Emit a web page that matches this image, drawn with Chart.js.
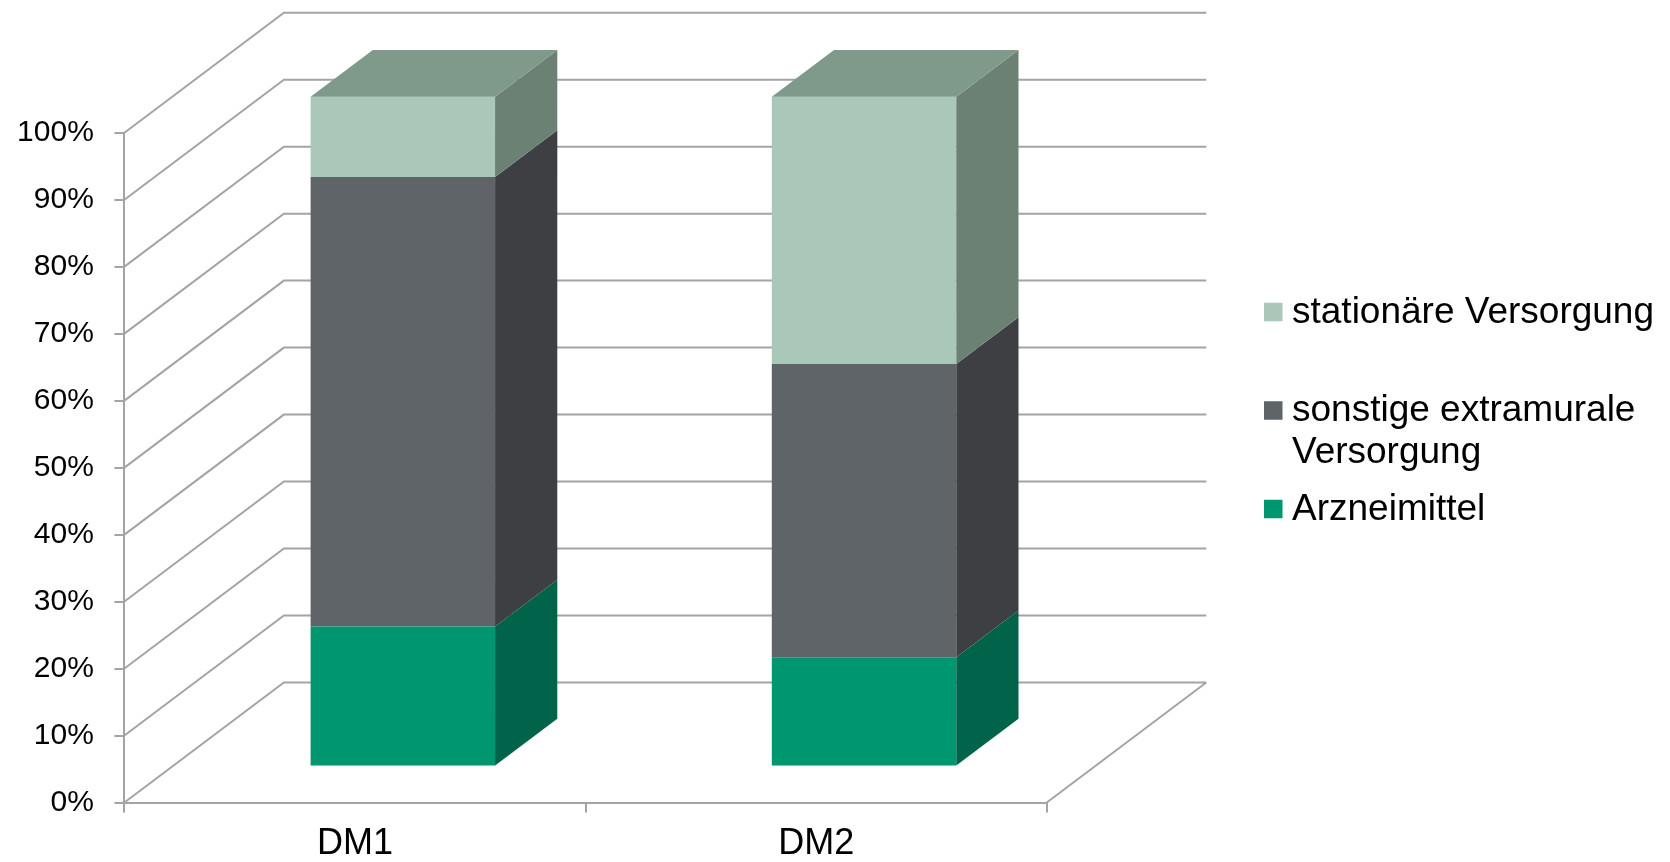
<!DOCTYPE html>
<html lang="de">
<head>
    <meta charset="UTF-8">
    <title>Kostenanteile DM1 / DM2</title>
    <script src="https://cdn.jsdelivr.net/npm/chart.js"></script>
    <style>
        body {
            margin: 0;
            background-color: white;
        }
        .chart-container {
            width: 1670px;
            height: 862px;
            position: relative;
        }
    </style>
</head>
<body>
    <div class="chart-container">
        <canvas id="barChart"></canvas>
    </div>

    <script>
        // Werte in Prozent
        const categories = ['DM1', 'DM2'];
        const arzneimittel = [20.9, 16.3];
        const sonstigeExtramural = [67.1, 43.8];
        const stationaer = [12.0, 39.9];
        const seriesLabels = ['Arzneimittel', 'sonstige extramurale Versorgung', 'stationäre Versorgung'];

        const FONT = "'Liberation Sans', Arial, sans-serif";
        const GRID_COLOR = '#a4a4a4';

        // 3D-Tiefe der Rückwand und Lage der Säulen darin
        const DEPTH_X = 159.5;
        const DEPTH_Y = -120;
        const BAR_FRONT = 0.3;
        const BAR_DEPTH = 0.39;

        const box3d = {
            id: 'box3d',
            beforeDatasetsDraw(chart) {
                const ctx = chart.ctx;
                const a = chart.chartArea;
                const y = chart.scales.y;
                ctx.save();
                ctx.strokeStyle = GRID_COLOR;
                ctx.lineWidth = 2;
                ctx.beginPath();
                y.ticks.forEach(t => {
                    const py = y.getPixelForValue(t.value);
                    ctx.moveTo(a.left, py);
                    ctx.lineTo(a.left + DEPTH_X, py + DEPTH_Y);
                    ctx.lineTo(a.right + DEPTH_X, py + DEPTH_Y);
                });
                ctx.moveTo(a.right, a.bottom);
                ctx.lineTo(a.right + DEPTH_X, a.bottom + DEPTH_Y);
                ctx.stroke();
                ctx.restore();

                // Säulen in die Mitte der Tiefe schieben
                ctx.save();
                ctx.translate(DEPTH_X * BAR_FRONT, DEPTH_Y * BAR_FRONT);
            },
            afterDatasetsDraw(chart) {
                const ctx = chart.ctx;
                const dx = DEPTH_X * BAR_DEPTH;
                const dy = DEPTH_Y * BAR_DEPTH;
                const last = chart.data.datasets.length - 1;
                chart.data.datasets.forEach((ds, i) => {
                    chart.getDatasetMeta(i).data.forEach(bar => {
                        const p = bar.getProps(['x', 'y', 'base', 'width'], true);
                        const l = p.x - p.width / 2;
                        const r = p.x + p.width / 2;
                        ctx.fillStyle = ds.sideColor;
                        ctx.beginPath();
                        ctx.moveTo(r, p.y);
                        ctx.lineTo(r + dx, p.y + dy);
                        ctx.lineTo(r + dx, p.base + dy);
                        ctx.lineTo(r, p.base);
                        ctx.closePath();
                        ctx.fill();
                        if (i === last) {
                            ctx.fillStyle = ds.topColor;
                            ctx.beginPath();
                            ctx.moveTo(l, p.y);
                            ctx.lineTo(l + dx, p.y + dy);
                            ctx.lineTo(r + dx, p.y + dy);
                            ctx.lineTo(r, p.y);
                            ctx.closePath();
                            ctx.fill();
                        }
                    });
                });
                ctx.restore();
            },
            afterDraw(chart) {
                // Legende rechts, umgekehrte Reihenfolge
                const ctx = chart.ctx;
                const boxX = 1264, boxSize = 18.5, textX = 1292;
                const maxW = chart.width - textX - 4;
                let cy = 312;
                ctx.save();
                ctx.font = '37px ' + FONT;
                ctx.textBaseline = 'alphabetic';
                ctx.textAlign = 'left';
                for (let i = chart.data.datasets.length - 1; i >= 0; i--) {
                    const ds = chart.data.datasets[i];
                    ctx.fillStyle = ds.backgroundColor;
                    ctx.fillRect(boxX, cy - boxSize / 2, boxSize, boxSize);
                    // Zeilen umbrechen
                    const lines = [];
                    let cur = '';
                    ds.label.split(' ').forEach(w => {
                        const test = cur ? cur + ' ' + w : w;
                        if (cur && ctx.measureText(test).width > maxW) {
                            lines.push(cur);
                            cur = w;
                        } else {
                            cur = test;
                        }
                    });
                    lines.push(cur);
                    ctx.fillStyle = '#000';
                    lines.forEach((ln, k) => ctx.fillText(ln, textX, cy + 10.7 + k * 41.7));
                    cy += 98.5;
                }
                ctx.restore();
            }
        };

        new Chart(document.getElementById('barChart'), {
            type: 'bar',
            data: {
                labels: categories,
                datasets: [
                    { label: seriesLabels[0], data: arzneimittel, backgroundColor: '#009670', sideColor: '#00634a', topColor: '#00634a' },
                    { label: seriesLabels[1], data: sonstigeExtramural, backgroundColor: '#5f6468', sideColor: '#3d3f42', topColor: '#3d3f42' },
                    { label: seriesLabels[2], data: stationaer, backgroundColor: '#a9c8b9', sideColor: '#6a8174', topColor: '#7f998a' }
                ].map(d => Object.assign(d, { categoryPercentage: 1, barPercentage: 0.4, borderWidth: 0, clip: false }))
            },
            options: {
                responsive: true,
                maintainAspectRatio: false,
                animation: false,
                layout: {
                    padding: { left: 0, top: 132.7, right: 623.2, bottom: 0 }
                },
                scales: {
                    x: {
                        stacked: true,
                        grid: { drawOnChartArea: false, drawTicks: true, tickLength: 10, color: GRID_COLOR, lineWidth: 2 },
                        border: { display: true, color: GRID_COLOR, width: 2 },
                        ticks: { color: '#000', padding: 10, font: { family: FONT, size: 36 } },
                        afterFit: s => { s.height = 59.5; }
                    },
                    y: {
                        stacked: true,
                        min: 0,
                        max: 100,
                        grid: { drawOnChartArea: false, drawTicks: true, tickLength: 10, color: GRID_COLOR, lineWidth: 2 },
                        border: { display: true, color: GRID_COLOR, width: 2 },
                        ticks: {
                            stepSize: 10,
                            color: '#000',
                            padding: 20.6,
                            font: { family: FONT, size: 30 },
                            callback: v => v + '%'
                        },
                        afterFit: s => { s.width = 124.4; }
                    }
                },
                plugins: {
                    legend: { display: false },
                    tooltip: { enabled: false }
                }
            },
            plugins: [box3d]
        });
    </script>
</body>
</html>
